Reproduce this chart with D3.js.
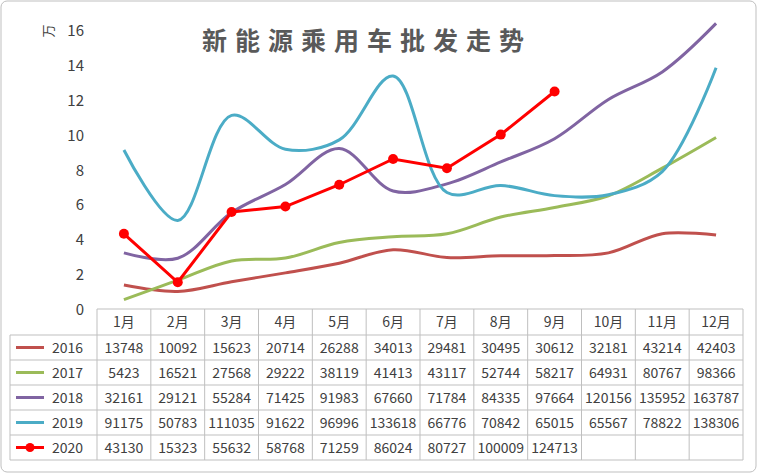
<!DOCTYPE html><html><head><meta charset="utf-8"><script src="https://cdn.jsdelivr.net/npm/d3@7"></script>
<style>body{margin:0;background:#fff}text{font-family:"Noto Sans CJK SC","Noto Sans",sans-serif}</style></head><body>
<svg id="c" width="758" height="474"></svg>
<script>
const months=["1月","2月","3月","4月","5月","6月","7月","8月","9月","10月","11月","12月"];
const yTicks=[0,2,4,6,8,10,12,14,16];
const names=["2016","2017","2018","2019","2020"];
const colors=["#C0504D","#9BBB59","#8064A2","#4BACC6","#FF0000"];
const s2016=[13748,10092,15623,20714,26288,34013,29481,30495,30612,32181,43214,42403];
const s2017=[5423,16521,27568,29222,38119,41413,43117,52744,58217,64931,80767,98366];
const s2018=[32161,29121,55284,71425,91983,67660,71784,84335,97664,120156,135952,163787];
const s2019=[91175,50783,111035,91622,96996,133618,66776,70842,65015,65567,78822,138306];
const s2020=[43130,15323,55632,58768,71259,86024,80727,100009,124713];
const series=[s2016,s2017,s2018,s2019,s2020];
const svg=d3.select("#c");
svg.append("rect").attr("x",1).attr("y",1).attr("width",755).attr("height",471).attr("rx",6).attr("fill","#fff").attr("stroke","#bfbfbf");
const L=97,R=743,T=30,B=309;
const x=d3.scaleBand().domain(months).range([L,R]);
const y=d3.scaleLinear().domain([0,16]).range([B,T]);
svg.append("g").selectAll("text").data(yTicks).join("text").attr("x",84).attr("y",d=>y(d)+6).attr("text-anchor","end").attr("font-size",15).attr("fill","#404040").text(d=>d);
svg.append("text").attr("x",48).attr("y",36).attr("font-size",13).attr("fill","#404040").attr("text-anchor","middle").attr("transform","rotate(-90,48,31)").text("万");
svg.append("text").attr("x",367).attr("y",50).attr("text-anchor","middle").attr("font-size",25).attr("font-weight","bold").attr("letter-spacing",8).attr("fill","#595959").text("新能源乘用车批发走势");
const rowH=25, tTop=B, rows=6;
const g=svg.append("g").attr("stroke","#bfbfbf").attr("fill","none");
for(let i=0;i<=rows;i++){const yy=tTop+i*rowH+(i>0?1:0);g.append("line").attr("x1",i==0?L:10).attr("x2",R).attr("y1",yy).attr("y2",yy);}
months.forEach((m,i)=>g.append("line").attr("x1",x(m)).attr("x2",x(m)).attr("y1",tTop).attr("y2",tTop+rows*rowH+1));
g.append("line").attr("x1",R).attr("x2",R).attr("y1",tTop).attr("y2",tTop+rows*rowH+1);
g.append("line").attr("x1",10).attr("x2",10).attr("y1",tTop+rowH+1).attr("y2",tTop+rows*rowH+1);
months.forEach(m=>svg.append("text").attr("x",x(m)+x.bandwidth()/2).attr("y",tTop+18).attr("text-anchor","middle").attr("font-size",14).attr("fill","#404040").text(m));
series.forEach((s,k)=>{
  const ry=tTop+rowH*(k+1)+1+rowH/2;
  svg.append("line").attr("x1",16).attr("x2",44).attr("y1",ry).attr("y2",ry).attr("stroke",colors[k]).attr("stroke-width",3);
  if(k==4)svg.append("circle").attr("cx",30).attr("cy",ry).attr("r",4.5).attr("fill",colors[k]);
  svg.append("text").attr("x",52).attr("y",ry+5).attr("font-size",14).attr("fill","#404040").text(names[k]);
  s.forEach((v,i)=>svg.append("text").attr("x",x(months[i])+x.bandwidth()/2).attr("y",ry+5).attr("text-anchor","middle").attr("font-size",14).attr("fill","#404040").text(v));
  const line=d3.line().x((d,i)=>x(months[i])+x.bandwidth()/2).y(d=>y(d/10000)).curve(k==4?d3.curveLinear:d3.curveCatmullRom.alpha(0.5));
  svg.append("path").datum(s).attr("d",line).attr("fill","none").attr("stroke",colors[k]).attr("stroke-width",3);
  if(k==4)svg.append("g").selectAll("circle").data(s).join("circle").attr("cx",(d,i)=>x(months[i])+x.bandwidth()/2).attr("cy",d=>y(d/10000)).attr("r",5).attr("fill",colors[k]);
});
</script></body></html>
